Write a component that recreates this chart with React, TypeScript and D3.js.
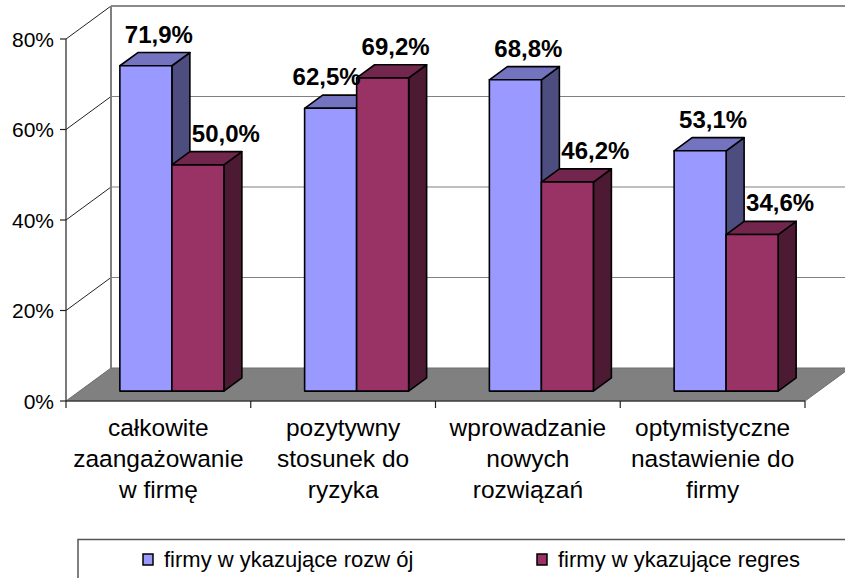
import React from 'react';
import * as d3 from 'd3';

const categories = [
  ['całkowite', 'zaangażowanie', 'w firmę'],
  ['pozytywny', 'stosunek do', 'ryzyka'],
  ['wprowadzanie', 'nowych', 'rozwiązań'],
  ['optymistyczne', 'nastawienie do', 'firmy'],
];
const growthValues = [71.9, 62.5, 68.8, 53.1];
const declineValues = [50.0, 69.2, 46.2, 34.6];
const seriesNames = ['firmy w ykazujące rozw ój', 'firmy w ykazujące regres'];
const yTicks = [0, 20, 40, 60, 80];

const FONT = '"Liberation Sans", Arial, sans-serif';

// front plane and 3d depth
const left = 66;
const right = 805;
const floorY = 401;
const topY = 39;
const depthX = 45;
const depthY = -33;

const colors = [
  { front: '#9999ff', top: '#7373bf', side: '#4d4d80' },
  { front: '#993366', top: '#73264d', side: '#4d1a33' },
];

const fmt = (v: number) => v.toFixed(1).replace('.', ',') + '%';

export default function App() {
  const svgRef = React.useRef<SVGSVGElement>(null);

  React.useEffect(() => {
    const svg = d3.select(svgRef.current);
    svg.selectAll('*').remove();

    const y = d3.scaleLinear().domain([0, 80]).range([floorY, topY]);
    const x = d3
      .scaleBand<number>()
      .domain(d3.range(categories.length))
      .range([left, right])
      .padding(0);
    const bw = x.bandwidth();
    const group = bw * 0.563;
    const inner = d3
      .scaleBand<number>()
      .domain([0, 1])
      .range([(bw - group) / 2, (bw + group) / 2])
      .padding(0);
    const barW = inner.bandwidth();

    // bars sit in the middle of the depth
    const offX = depthX * 0.3;
    const offY = depthY * 0.3;
    const bdx = depthX * 0.4;
    const bdy = depthY * 0.4;

    // back wall
    svg.append('rect')
      .attr('x', left + depthX).attr('y', topY + depthY)
      .attr('width', 860 - left - depthX).attr('height', floorY - topY)
      .attr('fill', '#fff');

    // gridlines
    yTicks.forEach((t) => {
      const yy = y(t);
      if (t > 0) {
        svg.append('line')
          .attr('x1', left + depthX).attr('x2', 850)
          .attr('y1', yy + depthY).attr('y2', yy + depthY)
          .attr('stroke', t === 80 ? '#8a8a8a' : '#808080')
          .attr('stroke-width', t === 80 ? 2 : 1.2);
        svg.append('line')
          .attr('x1', left).attr('x2', left + depthX)
          .attr('y1', yy).attr('y2', yy + depthY)
          .attr('stroke', '#222').attr('stroke-width', 1);
      }
    });
    // left wall back edge
    svg.append('line')
      .attr('x1', left + depthX).attr('x2', left + depthX)
      .attr('y1', topY + depthY).attr('y2', floorY + depthY)
      .attr('stroke', '#808080').attr('stroke-width', 2);

    // floor
    svg.append('polygon')
      .attr('points', [
        [left, floorY], [right, floorY], [right + depthX, floorY + depthY], [left + depthX, floorY + depthY],
      ].map((p) => p.join(',')).join(' '))
      .attr('fill', '#808080')
      .attr('stroke', '#6e6e6e').attr('stroke-width', 1);

    // axes
    svg.append('line')
      .attr('x1', left).attr('x2', left).attr('y1', topY).attr('y2', floorY)
      .attr('stroke', '#222').attr('stroke-width', 1.2);
    svg.append('line')
      .attr('x1', left).attr('x2', right).attr('y1', floorY).attr('y2', floorY)
      .attr('stroke', '#222').attr('stroke-width', 1.2);
    yTicks.forEach((t) => {
      svg.append('line')
        .attr('x1', left - 6).attr('x2', left).attr('y1', y(t)).attr('y2', y(t))
        .attr('stroke', '#222').attr('stroke-width', 1.2);
      svg.append('text')
        .attr('x', left - 12).attr('y', y(t)).attr('dy', '0.36em')
        .attr('text-anchor', 'end')
        .attr('font-family', FONT).attr('font-size', 21)
        .attr('fill', '#000')
        .text(t + '%');
    });
    d3.range(categories.length + 1).forEach((i) => {
      const xx = left + i * bw;
      svg.append('line')
        .attr('x1', xx).attr('x2', xx).attr('y1', floorY).attr('y2', floorY + 7)
        .attr('stroke', '#222').attr('stroke-width', 1.2);
    });

    // category labels
    categories.forEach((lines, i) => {
      const t = svg.append('text')
        .attr('text-anchor', 'middle')
        .attr('font-family', FONT).attr('font-size', 24.5)
        .attr('fill', '#000');
      lines.forEach((ln, k) => {
        t.append('tspan')
          .attr('x', x(i)! + bw / 2)
          .attr('y', 436 + k * 31)
          .text(ln);
      });
    });

    const series = [growthValues, declineValues];
    const bars: { i: number; s: number; v: number; x0: number; yTop: number }[] = [];
    categories.forEach((_, i) => {
      series.forEach((vals, s) => {
        bars.push({
          i, s, v: vals[i],
          x0: x(i)! + inner(s)! + offX,
          yTop: y(vals[i]) + offY,
        });
      });
    });
    const yBot = floorY + offY;

    const drawLabel = (b: typeof bars[number]) => {
      const other = series[1 - b.s][b.i];
      let shift = 13;
      if (b.s === 0 && b.v < other) shift = -4;
      if (b.s === 1 && b.v < other) shift = 28;
      svg.append('text')
        .attr('x', b.x0 + barW / 2 + shift)
        .attr('y', b.yTop + bdy - 10)
        .attr('text-anchor', 'middle')
        .attr('font-family', FONT).attr('font-size', 24).attr('font-weight', 'bold')
        .attr('fill', '#000')
        .text(fmt(b.v));
    };

    // red labels sit behind the bars
    bars.filter((b) => b.s === 1).forEach(drawLabel);

    const stroke = '#000';
    bars.forEach((b) => {
      const c = colors[b.s];
      const g = svg.append('g')
        .attr('stroke', stroke).attr('stroke-width', 1.6).attr('stroke-linejoin', 'round');
      g.append('polygon')
        .attr('points', [
          [b.x0 + barW, b.yTop], [b.x0 + barW + bdx, b.yTop + bdy],
          [b.x0 + barW + bdx, yBot + bdy], [b.x0 + barW, yBot],
        ].map((p) => p.join(',')).join(' '))
        .attr('fill', c.side);
      g.append('polygon')
        .attr('points', [
          [b.x0, b.yTop], [b.x0 + barW, b.yTop],
          [b.x0 + barW + bdx, b.yTop + bdy], [b.x0 + bdx, b.yTop + bdy],
        ].map((p) => p.join(',')).join(' '))
        .attr('fill', c.top);
      g.append('rect')
        .attr('x', b.x0).attr('y', b.yTop)
        .attr('width', barW).attr('height', yBot - b.yTop)
        .attr('fill', c.front);
    });

    bars.filter((b) => b.s === 0).forEach(drawLabel);

    // legend
    const lg = svg.append('g');
    lg.append('path')
      .attr('d', 'M78,578 V539.5 H845')
      .attr('fill', 'none').attr('stroke', '#555').attr('stroke-width', 1.5);
    const legendX = [143, 537];
    seriesNames.forEach((name, s) => {
      lg.append('rect')
        .attr('x', legendX[s]).attr('y', 554)
        .attr('width', 10).attr('height', 11)
        .attr('fill', colors[s].front).attr('stroke', '#000').attr('stroke-width', 1.5);
      lg.append('text')
        .attr('x', legendX[s] + 21).attr('y', 567)
        .attr('font-family', FONT).attr('font-size', 22)
        .attr('fill', '#000')
        .text(name);
    });
  }, []);

  return (
    <svg
      ref={svgRef}
      width={845}
      height={578}
      style={{ position: 'absolute', left: 0, top: 0, background: '#fff' }}
    />
  );
}
